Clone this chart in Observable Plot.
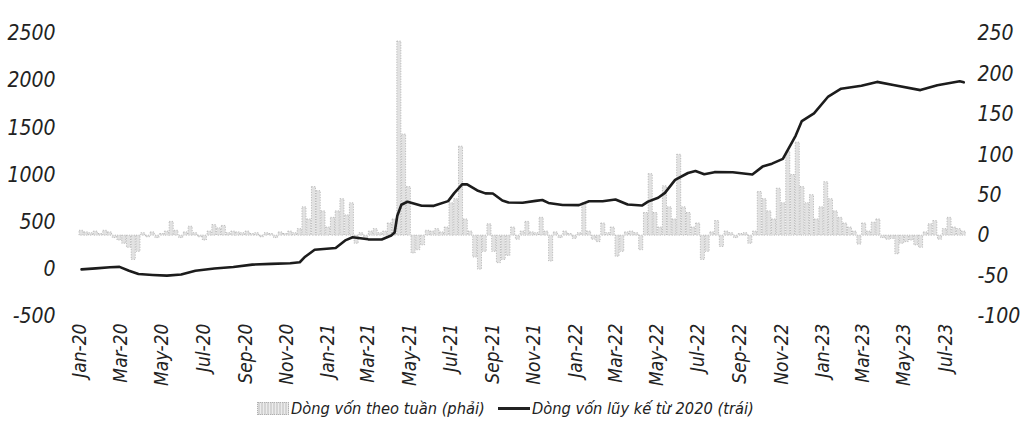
<!DOCTYPE html>
<html>
<head>
<meta charset="utf-8">
<script src="https://cdn.jsdelivr.net/npm/d3@7"></script>
<script src="https://cdn.jsdelivr.net/npm/@observablehq/plot@0.6"></script>
<style>
  html, body { margin: 0; padding: 0; background: #fff; }
  #wrap { position: relative; width: 1032px; height: 430px; overflow: hidden; }
  .f { font-family: "Liberation Sans Narrow", "Arial Narrow", "DejaVu Sans Condensed", sans-serif; font-style: italic; color: #222; }
  .leg { position: absolute; top: 399px; font-size: 16.3px; display: flex; align-items: center; white-space: nowrap; }
  .sw-bar { width: 32px; height: 13px; margin-right: 2px; background: repeating-linear-gradient(90deg, #d4d4d4 0 2px, #ececec 2px 3px); border: 1px dotted #b0b0b0; box-sizing: border-box; }
  .sw-line { width: 32px; height: 3px; background: #222; margin-right: 2px; }
</style>
</head>
<body>
<div id="wrap" class="f"></div>
<script>
// ---- data ----
const weekStart = "2020-01-03"; // first weekly bar (Fridays)
const weeklyFlows = [
  6, 4, 3, 5, 2, 6, 4, -3, -6, -10, -15, -30, -20, 3, -2, 4, -3, 2, 5, 17,
  6, -3, 4, 11, 3, -2, -6, 5, 13, 9, 12, 3, 5, 4, 3, 5, 2, 3, -2, 3,
  2, -3, 4, 2, 5, 3, 8, 35, 20, 60, 55, 30, 10, 22, 30, 45, 25, 40, -10, 3,
  -4, 5, 8, 3, 5, 15, 20, 240, 125, 60, -22, -18, -12, 6, 5, 8, 4, 10, 40, 45,
  110, 20, 5, -27, -42, -20, 14, -20, -34, -30, -25, 10, -5, 5, 17, 4, 3, 22, 5, -32,
  4, -3, 5, 2, -4, 3, 40, 5, -5, -8, 15, 3, 10, -26, -20, 4, 5, 3, -18, 28,
  76, 28, 10, 61, 35, 20, 100, 35, 28, 10, 15, -30, -20, 4, 18, -14, 5, 3, -3, 2,
  3, -10, 5, 54, 45, 30, 20, 58, 40, 104, 75, 115, 60, 40, 50, 20, 35, 66, 45, 30,
  22, 15, 10, 5, -11, 15, 5, 16, 20, -3, -5, -4, -23, -10, -8, -6, -12, -15, 4, 14,
  18, -5, 8, 22, 10, 8, 5
];
const cumDates = [
  "2020-01-03","2020-01-24","2020-02-14","2020-02-28","2020-03-13","2020-03-27","2020-04-17","2020-05-08",
  "2020-05-29","2020-06-19","2020-07-17","2020-08-14","2020-09-11","2020-10-09","2020-11-06","2020-11-20",
  "2020-11-28","2020-12-12","2021-01-12","2021-01-27","2021-02-06","2021-03-01","2021-03-21","2021-04-04",
  "2021-04-09","2021-04-13","2021-04-19","2021-04-28","2021-05-19","2021-06-06","2021-06-27","2021-07-06",
  "2021-07-18","2021-07-25","2021-08-09","2021-08-21","2021-09-01","2021-09-15","2021-09-24","2021-10-15",
  "2021-11-03","2021-11-13","2021-11-22","2021-12-13","2022-01-06","2022-01-21","2022-02-10","2022-03-01",
  "2022-03-19","2022-04-09","2022-04-18","2022-05-03","2022-05-13","2022-05-28","2022-06-16","2022-06-27",
  "2022-07-10","2022-07-25","2022-08-21","2022-09-19","2022-10-04","2022-10-18","2022-11-03","2022-11-22",
  "2022-12-01","2022-12-19","2023-01-09","2023-01-28","2023-02-27","2023-03-22","2023-04-15","2023-05-25",
  "2023-06-19","2023-07-22","2023-07-28"
];
const cumValues = [
  0, 10, 22, 26, -15, -50, -60, -67,
  -55, -15, 8, 25, 50, 58, 65, 75,
  134, 208, 226, 310, 340, 318, 317, 358,
  390, 568, 685, 716, 674, 673, 723, 808,
  902, 901, 836, 805, 804, 729, 708, 706,
  726, 735, 704, 682, 681, 722, 721, 741,
  687, 676, 718, 759, 811, 948, 1021, 1042,
  1009, 1030, 1029, 1005, 1089, 1120, 1171, 1418,
  1572, 1654, 1832, 1915, 1946, 1987, 1955, 1900,
  1952, 1993, 1982
];
const leftTicks = [-500, 0, 500, 1000, 1500, 2000, 2500];
const rightTicks = [-100, -50, 0, 50, 100, 150, 200, 250];
const xTickDates = ["2020-01-01","2020-03-01","2020-05-01","2020-07-01","2020-09-01","2020-11-01",
  "2021-01-01","2021-03-01","2021-05-01","2021-07-01","2021-09-01","2021-11-01",
  "2022-01-01","2022-03-01","2022-05-01","2022-07-01","2022-09-01","2022-11-01",
  "2023-01-01","2023-03-01","2023-05-01","2023-07-01"];
const xTickLabels = ["Jan-20","Mar-20","May-20","Jul-20","Sep-20","Nov-20",
  "Jan-21","Mar-21","May-21","Jul-21","Sep-21","Nov-21",
  "Jan-22","Mar-22","May-22","Jul-22","Sep-22","Nov-22",
  "Jan-23","Mar-23","May-23","Jul-23"];
const legendLabels = ["Dòng vốn theo tuần (phải)", "Dòng vốn lũy kế từ 2020 (trái)"];

// ---- build ----
const L0 = -500, L1 = 2500, R0 = -100, R1 = 250;
const toLeft = v => L0 + (v - R0) * (L1 - L0) / (R1 - R0);
const fromLeft = y => Math.round(R0 + (y - L0) * (R1 - R0) / (L1 - L0));

const start = new Date(weekStart);
const weekly = weeklyFlows.map((v, i) => ({date: d3.utcDay.offset(start, 7 * i), v}));
const cum = cumDates.map((d, i) => ({date: new Date(d), v: cumValues[i]}));
const xTicks = xTickDates.map(d => new Date(d));
const labelOf = new Map(xTicks.map((d, i) => [+d, xTickLabels[i]]));

const font = '"Liberation Sans Narrow", "Arial Narrow", "DejaVu Sans Condensed", sans-serif';

const chart = Plot.plot({
  width: 1032,
  height: 392,
  marginTop: 33,
  marginBottom: 76,
  marginLeft: 77,
  marginRight: 64,
  style: {fontFamily: font, fontStyle: "italic", fontSize: "21px", color: "#222", background: "transparent", overflow: "visible"},
  x: {type: "utc", domain: [new Date("2019-12-28"), new Date("2023-08-04")], label: null},
  y: {domain: [L0, L1], label: null},
  marks: [
    Plot.rect(weekly, {
      x1: d => d3.utcDay.offset(d.date, -3),
      x2: d => d3.utcDay.offset(d.date, 3),
      y1: () => toLeft(0),
      y2: d => toLeft(d.v),
      fill: "#e2e2e2",
      stroke: "#a6a6a6",
      strokeWidth: 0.7,
      strokeDasharray: "1.2,1.4"
    }),
    Plot.line(cum, {x: "date", y: "v", stroke: "#1c1c1c", strokeWidth: 2.6, strokeLinejoin: "round"}),
    Plot.axisY(leftTicks, {anchor: "left", tickSize: 0, tickPadding: 22, label: null, fontSize: 21, tickFormat: d => String(d)}),
    Plot.axisY(rightTicks.map(toLeft), {anchor: "right", tickSize: 0, tickPadding: 9, label: null, fontSize: 21, tickFormat: d => String(fromLeft(d))}),
    Plot.axisX(xTicks, {anchor: "bottom", tickSize: 0, tickPadding: 7, tickRotate: -90, label: null, fontSize: 19, tickFormat: d => labelOf.get(+d)})
  ]
});

const wrap = document.getElementById("wrap");
wrap.appendChild(chart);

const leg1 = document.createElement("div");
leg1.className = "leg";
leg1.style.left = "257px";
leg1.innerHTML = '<span class="sw-bar"></span><span></span>';
leg1.lastChild.textContent = legendLabels[0];
wrap.appendChild(leg1);

const leg2 = document.createElement("div");
leg2.className = "leg";
leg2.style.left = "498px";
leg2.innerHTML = '<span class="sw-line"></span><span></span>';
leg2.lastChild.textContent = legendLabels[1];
wrap.appendChild(leg2);
</script>
</body>
</html>
